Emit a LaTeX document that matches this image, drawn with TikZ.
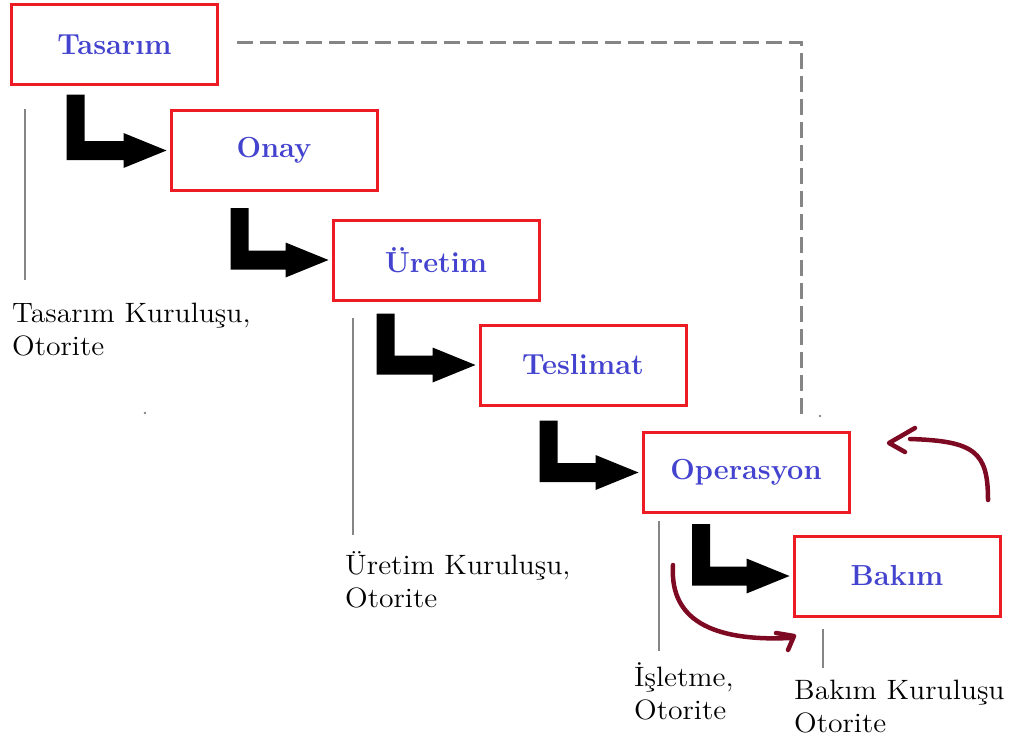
\documentclass[tikz,border=0pt]{standalone}
\usepackage{fontspec}
\usetikzlibrary{calc}

% slightly widened roman for the authority labels
\newfontfamily\lblfont{lmroman12-regular.otf}[FakeStretch=1.06]

\definecolor{boxred}{HTML}{ED1C24}
\definecolor{boxblue}{HTML}{4343CF}
\definecolor{tickgray}{HTML}{858585}
\definecolor{penred}{HTML}{7D0A22}

\tikzset{
  stagebox/.style={draw=boxred, line width=3pt, fill=white,
    minimum width=206pt, minimum height=80pt, inner sep=0pt,
    text=boxblue, font=\fontsize{29}{34}\selectfont\bfseries},
  authlabel/.style={anchor=base west, inner sep=0pt, align=left,
    font=\lblfont\fontsize{28}{33}\selectfont},
  tickline/.style={draw=tickgray, line width=2pt},
  dashline/.style={draw=tickgray, line width=3pt, dash pattern=on 16pt off 7pt},
  redpen/.style={draw=penred, line width=4.5pt, line cap=round, line join=round},
}

% thick black L-shaped step arrow: from node, x/y offset of the bar's top
% centre from its south west corner, to node
\newcommand\steparrow[4]{%
  \fill let \p1=($(#1.south west)+(#2,#3)$), \p2=($(#4.west)+(-3,0)$) in
    (\x1-9pt,\y1) -- (\x1+9pt,\y1) -- (\x1+9pt,\y2+9.5pt)
    -- (\x2-43pt,\y2+9.5pt) -- (\x2-43pt,\y2+17.5pt) -- (\x2,\y2)
    -- (\x2-43pt,\y2-17.5pt) -- (\x2-43pt,\y2-9.5pt)
    -- (\x1-9pt,\y2-9.5pt) -- cycle;}

\begin{document}
\begin{tikzpicture}[x=1pt, y=-1pt]
\useasboundingbox (0,0) rectangle (1011,744);

% stages
\node[stagebox] (tas) at (114.5,44.5) {Tasarım};
\node[stagebox] (onay) at (274,150.5) {Onay};
\node[stagebox] (uret) at (436,260) {Üretim};
\node[stagebox] (tesl) at (583,365) {Teslimat};
\node[stagebox] (oper) at (746,472.5) {Operasyon};
\node[stagebox] (bakim) at (897,576) {Bakım};

% step arrows between consecutive stages
\steparrow{tas}{65.5}{8.5}{onay}
\steparrow{onay}{70}{16}{uret}
\steparrow{uret}{54}{12}{tesl}
\steparrow{tesl}{70}{14}{oper}
\steparrow{oper}{59.5}{10}{bakim}

% dashed feedback line from design to operation
\coordinate (dashend) at (801,418);
\draw[dashline] ($(tas.east)+(18,-2.5)$) -| (dashend);

% responsible bodies (node base is the baseline of the last line)
\draw[tickline] (25,109) -- (25,280);
\node[authlabel] (tasauth) at (12,355) {Tasarım Kuruluşu,\\Otorite};
\draw[tickline] (353,318) -- (353,535);
\node[authlabel] (uretauth) at (345,607) {Üretim Kuruluşu,\\Otorite};
\draw[tickline] (659,521) -- (659,651);
\node[authlabel] (operauth) at (634,719) {İşletme,\\Otorite};
\draw[tickline] (823,629) -- (823,668);
\node[authlabel] (bakauth) at (794,732) {Bakım Kuruluşu\\Otorite};

% small specks
\fill[tickgray] (145,413) circle (1.3);
\fill[tickgray] (820,416) circle (1.3);

% hand-drawn loop arrows between operation and maintenance
\draw[redpen] (988,500) .. controls (988,452) and (975,441) .. (910,439);
\draw[redpen] (915,428) -- (889,443) -- (905,452);
\draw[redpen] (673,565) .. controls (670,612) and (700,642) .. (790,638);
\draw[redpen] (776,633) -- (794,636) -- (788,650);
\end{tikzpicture}
\end{document}
